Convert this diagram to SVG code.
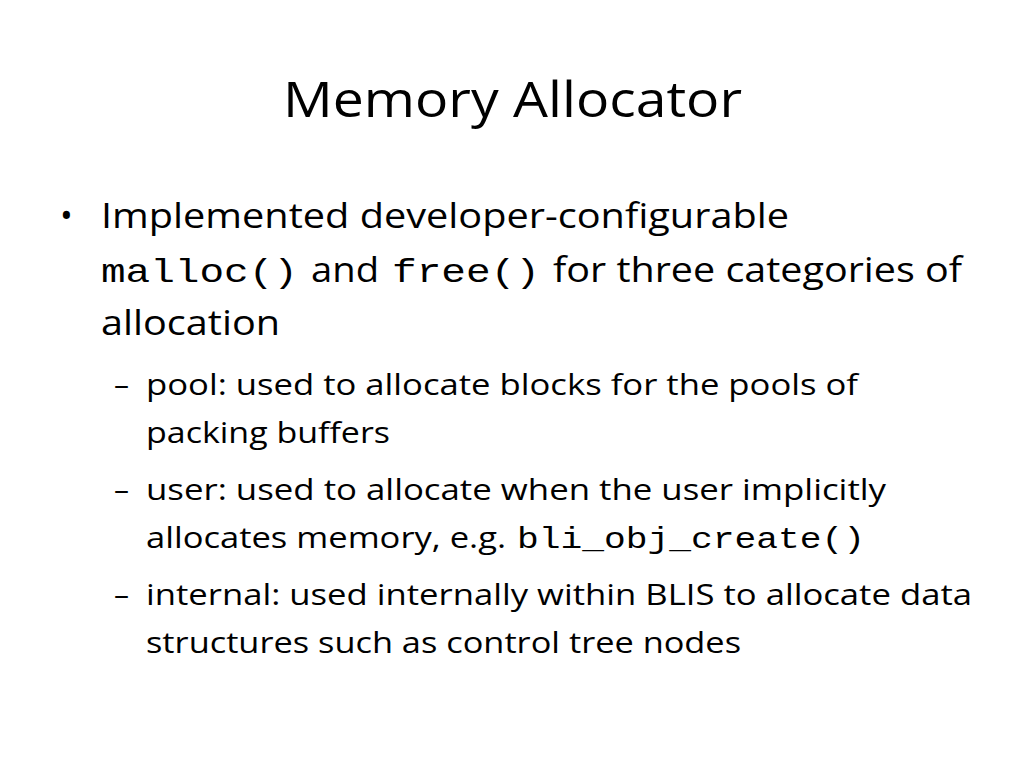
<svg xmlns="http://www.w3.org/2000/svg" width="1024" height="768" viewBox="0 0 1024 768">
<style>
.s{font-family:"Open Sans","Liberation Sans",sans-serif;fill:#000}
.m{font-family:"Liberation Mono","DejaVu Sans Mono",monospace;fill:#000}
.t{font-size:50px}.a{font-size:34px}.b{font-size:30px}
</style>
<rect width="1024" height="768" fill="#fff"/>
<text class="s t" x="283" y="117" textLength="459" lengthAdjust="spacingAndGlyphs">Memory Allocator</text>
<text class="s a" x="60" y="228">•</text>
<text class="s a" x="101" y="228" textLength="688" lengthAdjust="spacingAndGlyphs">Implemented developer-configurable</text>
<text class="m a" x="101" y="282" textLength="197" lengthAdjust="spacingAndGlyphs">malloc()</text>
<text class="s a" x="311" y="282" textLength="68" lengthAdjust="spacingAndGlyphs">and</text>
<text class="m a" x="392" y="282" textLength="148" lengthAdjust="spacingAndGlyphs">free()</text>
<text class="s a" x="553" y="282" textLength="409" lengthAdjust="spacingAndGlyphs">for three categories of</text>
<text class="s a" x="101" y="335" textLength="179" lengthAdjust="spacingAndGlyphs">allocation</text>
<g class="s b">
<text x="114" y="395">–</text>
<text x="146" y="395" textLength="712" lengthAdjust="spacingAndGlyphs">pool: used to allocate blocks for the pools of</text>
<text x="146" y="443" textLength="244" lengthAdjust="spacingAndGlyphs">packing buffers</text>
<text x="114" y="500">–</text>
<text x="146" y="500" textLength="740" lengthAdjust="spacingAndGlyphs">user: used to allocate when the user implicitly</text>
<text x="146" y="548" textLength="360" lengthAdjust="spacingAndGlyphs">allocates memory, e.g.</text>
<text x="114" y="605">–</text>
<text x="146" y="605" textLength="826" lengthAdjust="spacingAndGlyphs">internal: used internally within BLIS to allocate data</text>
<text x="146" y="653" textLength="595" lengthAdjust="spacingAndGlyphs">structures such as control tree nodes</text>
</g>
<text class="m b" x="517" y="548" textLength="348" lengthAdjust="spacingAndGlyphs">bli_obj_create()</text>
</svg>
